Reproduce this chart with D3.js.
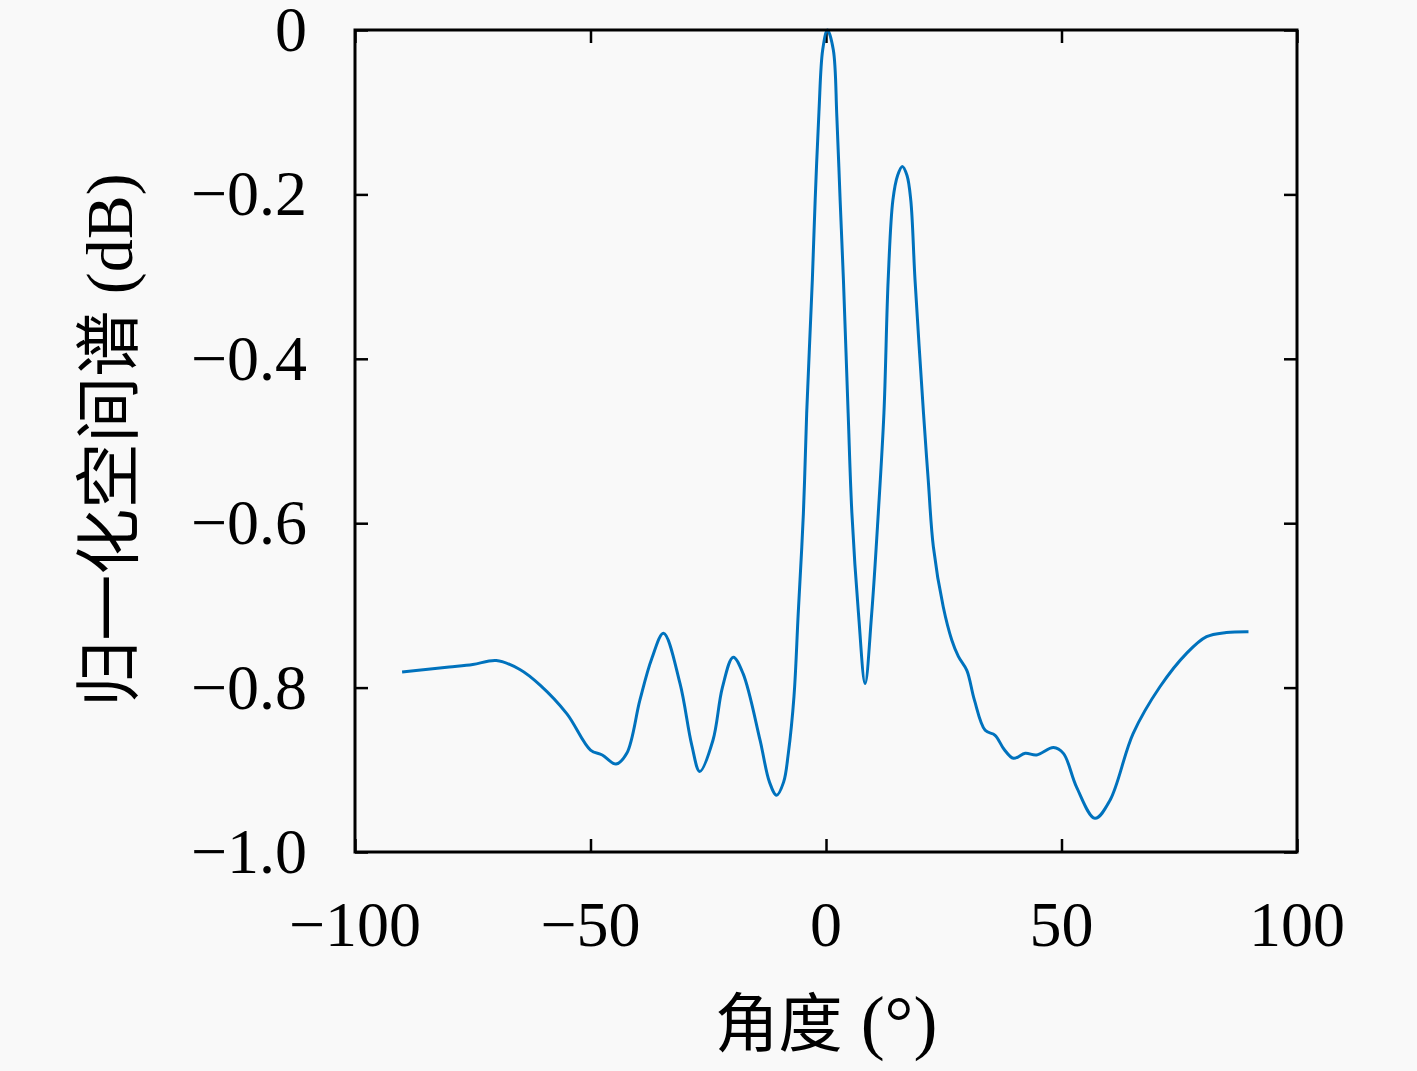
<!DOCTYPE html>
<html>
<head>
<meta charset="utf-8">
<script src="https://cdn.jsdelivr.net/npm/d3@7"></script>
<style>
  html, body { margin: 0; padding: 0; background: #f9f9f9; }
  svg { display: block; }
</style>
</head>
<body>
<svg id="chart" width="1417" height="1071"></svg>
<script>
// ---- data ----
const angles = [-90, -85, -80, -75, -70, -65, -60.7, -55, -50, -47.5, -44.6, -42.3, -39.5, -37, -34.5, -31, -28.5, -26.8, -24, -22, -19.7, -17.6, -14, -12, -10.5, -9, -8, -6.8, -5.9, -4.8, -4.1, -2.9, -2.3, -1.5, -0.7, 0.3, 1.55, 2.3, 3.0, 3.7, 4.7, 5.5, 6.9, 8.3, 9.7, 11.1, 12.3, 13.2, 14.2, 15.2, 16.2, 17.2, 18.0, 18.9, 20.7, 21.7, 22.8, 24.9, 26.7, 28.1, 29.9, 31.5, 33.8, 35.9, 37.8, 39.8, 42.3, 44.7, 48.3, 50.4, 53.2, 57.1, 60.3, 65.2, 70.9, 76.6, 80.8, 85, 89.7];
const spectrum = [-0.781, -0.778, -0.775, -0.772, -0.767, -0.778, -0.797, -0.832, -0.876, -0.882, -0.893, -0.880, -0.815, -0.765, -0.734, -0.795, -0.870, -0.902, -0.864, -0.800, -0.763, -0.783, -0.864, -0.915, -0.931, -0.915, -0.880, -0.811, -0.710, -0.588, -0.466, -0.304, -0.207, -0.100, -0.024, 0.0, -0.024, -0.105, -0.207, -0.304, -0.466, -0.588, -0.710, -0.795, -0.710, -0.588, -0.466, -0.304, -0.207, -0.177, -0.166, -0.177, -0.207, -0.304, -0.466, -0.547, -0.629, -0.702, -0.742, -0.762, -0.779, -0.815, -0.852, -0.858, -0.875, -0.886, -0.880, -0.882, -0.873, -0.880, -0.921, -0.959, -0.937, -0.856, -0.799, -0.758, -0.738, -0.733, -0.732];
const xTicks = [-100, -50, 0, 50, 100];
const yTicks = [0, -0.2, -0.4, -0.6, -0.8, -1.0];
const xTickLabels = ["\u2212100", "\u221250", "0", "50", "100"];
const yTickLabels = ["0", "\u22120.2", "\u22120.4", "\u22120.6", "\u22120.8", "\u22121.0"];
const xTitleCJK = "角度";
const xTitleRest = " (°)";
const yTitleCJK = "归一化空间谱";
const yTitleRest = " (dB)";

// ---- layout ----
const L = 355, R = 1297, T = 30, B = 852;
const svg = d3.select("#chart");
const x = d3.scaleLinear().domain([-100, 100]).range([L, R]);
const y = d3.scaleLinear().domain([-1, 0]).range([B, T]);
const tickLen = 13;
const serif = "'Liberation Serif', 'DejaVu Serif', serif";
const cjk = "'Noto Sans CJK SC', sans-serif";

// inward ticks on all four sides
const axB = d3.axisTop(x).tickValues(xTicks).tickSize(tickLen).tickFormat("");
const axT = d3.axisBottom(x).tickValues(xTicks).tickSize(tickLen).tickFormat("");
const axL = d3.axisRight(y).tickValues(yTicks).tickSize(tickLen).tickFormat("");
const axR = d3.axisLeft(y).tickValues(yTicks).tickSize(tickLen).tickFormat("");
[[axB, `translate(0,${B})`], [axT, `translate(0,${T})`], [axL, `translate(${L},0)`], [axR, `translate(${R},0)`]].forEach(([ax, tr]) => {
  const g = svg.append("g").attr("transform", tr).call(ax);
  g.select(".domain").remove();
  g.selectAll(".tick line").attr("stroke", "#000").attr("stroke-width", 2.5);
});

// data line
const pts = angles.map((a, i) => [a, spectrum[i]]);
svg.append("path")
  .datum(pts)
  .attr("fill", "none")
  .attr("stroke", "#0072BD")
  .attr("stroke-width", 3)
  .attr("stroke-linejoin", "round")
  .attr("d", d3.line().x(d => x(d[0])).y(d => y(d[1])).curve(d3.curveCatmullRom.alpha(0.5)));

// box
svg.append("rect")
  .attr("x", L).attr("y", T).attr("width", R - L).attr("height", B - T)
  .attr("fill", "none").attr("stroke", "#000").attr("stroke-width", 3);

// tick labels
svg.append("g").selectAll("text").data(xTicks).join("text")
  .attr("x", d => x(d)).attr("y", 946)
  .attr("text-anchor", "middle")
  .attr("font-family", serif).attr("font-size", 64).attr("fill", "#000")
  .text((d, i) => xTickLabels[i]);

svg.append("g").selectAll("text").data(yTicks).join("text")
  .attr("x", 307).attr("y", d => y(d) + 21)
  .attr("text-anchor", "end")
  .attr("font-family", serif).attr("font-size", 64).attr("fill", "#000")
  .text((d, i) => yTickLabels[i]);

// x title
const xt = svg.append("text")
  .attr("x", 826).attr("y", 1046)
  .attr("text-anchor", "middle").attr("fill", "#000");
xt.append("tspan").attr("font-family", cjk).attr("font-size", 64).text(xTitleCJK);
xt.append("tspan").attr("font-family", serif).attr("font-size", 72).text(xTitleRest);

// y title
const yt = svg.append("text")
  .attr("transform", "translate(132,440) rotate(-90)")
  .attr("text-anchor", "middle").attr("fill", "#000");
yt.append("tspan").attr("font-family", cjk).attr("font-size", 66).text(yTitleCJK);
yt.append("tspan").attr("font-family", serif).attr("font-size", 66).text(yTitleRest);
</script>
</body>
</html>
